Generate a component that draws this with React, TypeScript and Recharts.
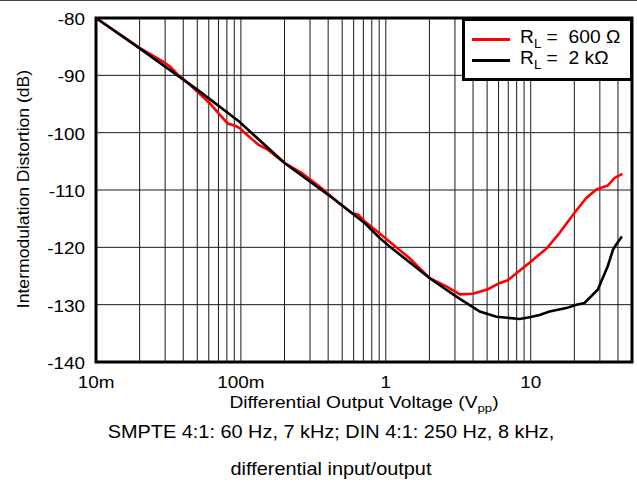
import React from "react";
import {
  ComposedChart,
  Line,
  XAxis,
  YAxis,
  CartesianGrid,
  ReferenceArea,
  Legend,
  Label,
} from "recharts";

// ---------- data ----------
const xGridTicks = [
  0.01, 0.02, 0.03, 0.04, 0.05, 0.06, 0.07, 0.08, 0.09,
  0.1, 0.2, 0.3, 0.4, 0.5, 0.6, 0.7, 0.8, 0.9,
  1, 2, 3, 4, 5, 6, 7, 8, 9,
  10, 20, 30, 40, 50,
];
const decadeTicks = [0.01, 0.1, 1, 10];
const decadeLabels = ["10m", "100m", "1", "10"];
const yTicks = [-140, -130, -120, -110, -100, -90, -80];

const red600X = [
  0.01, 0.02, 0.029, 0.0325, 0.0367, 0.0443, 0.0612, 0.0716, 0.0812, 0.0911,
  0.098, 0.107, 0.132, 0.154, 0.201, 0.262, 0.361, 0.445, 0.58, 0.644,
  0.717, 0.84, 1.12, 1.46, 2.01, 2.62, 3.24, 4.0, 5.06, 6.11,
  6.9, 7.97, 10, 13, 15.8, 20, 24.2, 28.4, 34.1, 37.9, 42.9,
];
const red600Y = [
  -80, -85.2, -87.6, -88.5, -89.9, -91.6, -94.9, -96.9, -98.4, -98.8,
  -99.2, -100.1, -102.1, -103.0, -105.3, -107.0, -109.7, -111.7, -114.0, -114.3,
  -115.5, -116.9, -119.5, -121.9, -125.4, -126.8, -128.2, -128.1, -127.3, -126.2,
  -125.8, -124.5, -122.5, -120.1, -117.5, -114.0, -111.4, -109.9, -109.2, -107.9, -107.2,
];

const black2kX = [
  0.01, 0.02, 0.05, 0.0967, 0.2, 0.445, 0.717, 0.909, 1.094, 2.01,
  3.07, 4.45, 5.8, 8.4, 9.83, 11.5, 13.5, 17.6, 20.7, 23.5,
  29, 34, 37, 38.9, 42.6,
];
const black2kY = [
  -80, -85.3, -92.5, -98.0, -105.3, -111.7, -115.8, -118.4, -120.1, -125.4,
  -128.6, -131.2, -132.1, -132.5, -132.2, -131.8, -131.2, -130.6, -130.0, -129.7,
  -127.4, -123.3, -120.4, -119.5, -118.1,
];

const seriesNames = ["600 Ω", "2 kΩ"];
const seriesColors = ["#ff0000", "#000000"];

const redData = red600X.map((x, i) => ({ x, y: red600Y[i] }));
const blackData = black2kX.map((x, i) => ({ x, y: black2kY[i] }));

// ---------- styling helpers ----------
const FONT = "'Liberation Sans', Arial, Helvetica, sans-serif";

function XTick(props: any) {
  const { x, y, payload } = props;
  const i = decadeTicks.indexOf(payload.value);
  if (i < 0) return <g />;
  return (
    <text
      transform={`translate(${x},${y + 26}) scale(1.18,1)`}
      textAnchor="middle"
      fontSize={16}
      fontFamily={FONT}
      fill="#000"
    >
      {decadeLabels[i]}
    </text>
  );
}

function YTick(props: any) {
  const { x, y, payload } = props;
  return (
    <text
      transform={`translate(${x},${y + 7}) scale(1.18,1)`}
      textAnchor="end"
      fontSize={16}
      fontFamily={FONT}
      fill="#000"
    >
      {payload.value}
    </text>
  );
}

function YTitle() {
  return (
    <text
      transform="translate(24,189) rotate(-90) scale(1.1,1)"
      textAnchor="middle"
      dominantBaseline="central"
      fontSize={16}
      fontFamily={FONT}
      fill="#000"
    >
      Intermodulation Distortion (dB)
    </text>
  );
}

function XTitleAndCaption() {
  return (
    <g fontFamily={FONT} fill="#000">
      <text
        transform="translate(364,408) scale(1.2,1)"
        textAnchor="middle"
        fontSize={16}
      >
        Differential Output Voltage (V
        <tspan fontSize={11} dy={4}>pp</tspan>
        <tspan dy={-4}>)</tspan>
      </text>
      <text
        transform="translate(331,438) scale(1.07,1)"
        textAnchor="middle"
        fontSize={18.6}
      >
        SMPTE 4:1: 60 Hz, 7 kHz; DIN 4:1: 250 Hz, 8 kHz,
      </text>
      <text
        transform="translate(331,474.5) scale(1.07,1)"
        textAnchor="middle"
        fontSize={18.6}
      >
        differential input/output
      </text>
    </g>
  );
}

function LegendBox() {
  return (
    <div
      style={{
        position: "relative",
        width: 171,
        height: 63,
        boxSizing: "border-box",
        border: "3px solid #000",
        background: "#fff",
        fontFamily: FONT,
      }}
    >
      {seriesNames.map((name, i) => (
        <div key={name}>
          <div
            style={{
              position: "absolute",
              left: 7,
              top: 16.5 + i * 21,
              width: 38,
              height: 3,
              background: seriesColors[i],
            }}
          />
          <div
            style={{
              position: "absolute",
              left: 55,
              top: 6 + i * 21,
              lineHeight: "20px",
              fontSize: 17.5,
              whiteSpace: "pre",
              color: "#000",
              transform: "scaleX(1.1)",
              transformOrigin: "0 50%",
            }}
          >
            R
            <span
              style={{
                fontSize: 12,
                position: "relative",
                top: 5,
                lineHeight: 0,
              }}
            >
              L
            </span>
            {" =  " + name}
          </div>
        </div>
      ))}
    </div>
  );
}

export default function App() {
  return (
    <div
      style={{
        position: "absolute",
        left: 0,
        top: 0,
        width: 637,
        height: 485,
        background: "#fff",
      }}
    >
      <div
        style={{
          position: "absolute",
          left: 0,
          top: 0,
          width: 637,
          height: 1,
          background: "#444",
        }}
      />
      <ComposedChart
        width={637}
        height={485}
        margin={{ top: 18, right: 5, left: 0, bottom: 93 }}
      >
        <CartesianGrid stroke="#1a1a1a" strokeWidth={1} />
        <XAxis
          dataKey="x"
          type="number"
          scale="log"
          domain={[0.01, 50]}
          allowDataOverflow
          ticks={xGridTicks}
          interval={0}
          height={30}
          axisLine={false}
          tickLine={false}
          tickSize={0}
          tickMargin={0}
          tick={<XTick />}
        >
          <Label content={<XTitleAndCaption />} />
        </XAxis>
        <YAxis
          type="number"
          domain={[-140, -80]}
          ticks={yTicks}
          interval={0}
          width={96}
          axisLine={false}
          tickLine={false}
          tickSize={0}
          tickMargin={11}
          tick={<YTick />}
        >
          <Label content={<YTitle />} />
        </YAxis>
        <Line
          data={redData}
          dataKey="y"
          name={seriesNames[0]}
          stroke={seriesColors[0]}
          strokeWidth={2.6}
          dot={false}
          type="linear"
          isAnimationActive={false}
        />
        <Line
          data={blackData}
          dataKey="y"
          name={seriesNames[1]}
          stroke={seriesColors[1]}
          strokeWidth={2.6}
          dot={false}
          type="linear"
          isAnimationActive={false}
        />
        <ReferenceArea
          x1={0.01}
          x2={50}
          y1={-140}
          y2={-80}
          fill="none"
          fillOpacity={0}
          stroke="#000"
          strokeWidth={3}
          ifOverflow="visible"
        />
        <Legend
          layout="vertical"
          align="center"
          verticalAlign="middle"
          wrapperStyle={{ left: 462, top: 18, width: 171, height: 63 }}
          content={() => <LegendBox />}
        />
      </ComposedChart>
    </div>
  );
}
